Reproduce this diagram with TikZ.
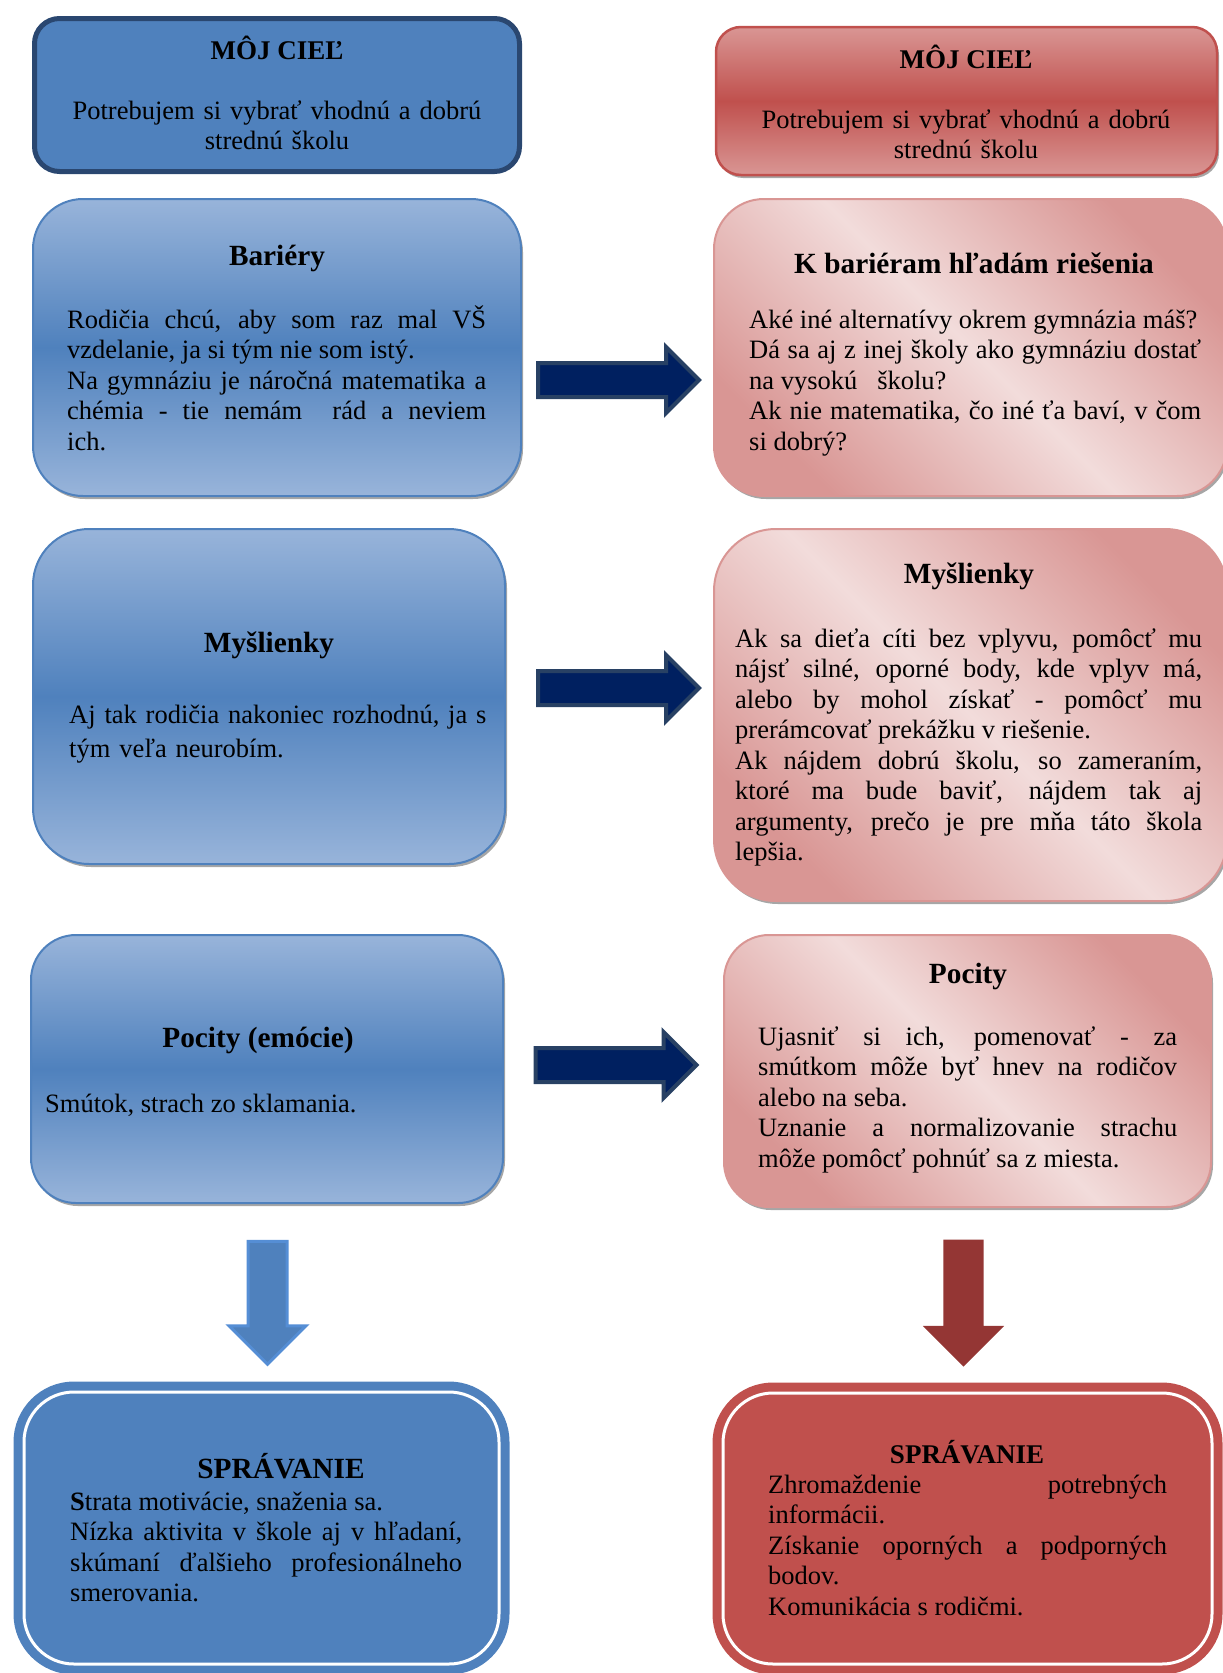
\documentclass[tikz,border=0pt]{standalone}
\usepackage{fontspec}
\setmainfont{Liberation Serif}
\usepackage{tikz}
\usetikzlibrary{shapes.arrows,shadows}

\definecolor{boxblue}{HTML}{4F81BD}
\definecolor{bluelite}{HTML}{98B4DA}
\definecolor{goaledge}{HTML}{2A4770}
\definecolor{navy}{HTML}{002060}
\definecolor{navyedge}{HTML}{284164}
\definecolor{downedge}{HTML}{558ED5}
\definecolor{redmid}{HTML}{C0504D}
\definecolor{redlite}{HTML}{D99694}
\definecolor{pinklite}{HTML}{F2DCDB}
\definecolor{arrowred}{HTML}{943634}

\newcommand\bodyfont{\fontsize{26.5}{30.5}\selectfont\parindent=0pt\sloppy}
\newcommand\headfont{\fontsize{29.3}{33}\selectfont\bfseries}
\newcommand\goalfont{\fontsize{27}{31}\selectfont\bfseries}

\begin{document}
\begin{tikzpicture}[x=1pt,y=-1pt,
 shade/.style={drop shadow={shadow xshift=2pt,shadow yshift=-3pt,fill=black,opacity=.35}},
 aim/.style={inner sep=0pt,rounded corners=25},
 lbox/.style={inner sep=0pt,draw=boxblue,line width=2,top color=bluelite,bottom color=bluelite,middle color=boxblue,shade},
 rbox/.style={inner sep=0pt,draw=redlite,line width=2,top color=redlite,bottom color=redlite,middle color=pinklite,shading angle=-45,shade},
 act/.style={inner sep=0pt,rounded corners=50,draw=#1,fill=#1,line width=9,double=white,double distance=3},
 harr/.style={single arrow,single arrow tip angle=90,single arrow head indent=0pt,inner sep=15,
   single arrow head extend=16,minimum width=62,minimum height=161,fill=navy,draw=navyedge,line width=4},
 varr/.style={single arrow,shape border rotate=270,single arrow tip angle=90,single arrow head indent=0pt},
 ttl/.style={anchor=base,inner sep=0pt,font=\headfont},
 txt/.style={anchor=base west,inner sep=0pt,align=justify,font=\bodyfont}]
\useasboundingbox (0,0) rectangle (1223,1673);

\node[aim,draw=goaledge,line width=5,fill=boxblue,minimum width=485,minimum height=153] (goalL) at (277,95) {};
\node[ttl,font=\goalfont] (goalLt) at (277,59) {MÔJ CIEĽ};
\node[txt,anchor=base,align=center,text width=470] (goalLb) at (277,119)
 {Potrebujem si vybrať vhodnú a dobrú\\strednú školu};

\node[aim,shade,draw=redmid,line width=2.5,top color=redlite,bottom color=redlite,middle color=redmid,
 minimum width=501,minimum height=148] (goalR) at (966.5,101) {};
\node[ttl,font=\goalfont] (goalRt) at (966,68) {MÔJ CIEĽ};
\node[txt,anchor=base,align=center,text width=480] (goalRb) at (966,128)
 {Potrebujem si vybrať vhodnú a dobrú\\strednú školu};

\node[lbox,rounded corners=50,minimum width=488,minimum height=297] (barL) at (277,347.5) {};
\node[ttl] (barLt) at (277,265) {Bariéry};
\node[txt,text width=419] (barLb) at (67,328)
 {Rodičia chcú, aby som raz mal VŠ\linebreak vzdelanie, ja si tým nie som istý.\newline
  Na gymnáziu je náročná matematika a\linebreak chémia - tie nemám~ rád a neviem\linebreak ich.};

\node[rbox,rounded corners=50,minimum width=513,minimum height=297] (barR) at (970.5,347.5) {};
\node[ttl] (barRt) at (974,273) {K bariéram hľadám riešenia};
\node[txt,text width=452] (barRb) at (749,328)
 {Aké iné alternatívy okrem gymnázia máš?\newline Dá sa aj z inej školy ako gymnáziu dostať\linebreak
  na vysokú~~~školu?\newline Ak nie matematika, čo iné ťa baví, v čom\linebreak si dobrý?};

\node[harr] (r1) at (610,380) {};

\node[lbox,rounded corners=56,minimum width=472,minimum height=335] (mysL) at (269,696.5) {};
\node[ttl] (mysLt) at (269,652) {Myšlienky};
\node[txt,align=left,text width=450,font=\fontsize{26.5}{34}\selectfont] (mysLb) at (69,723)
 {Aj tak rodičia nakoniec rozhodnú, ja s\\tým veľa neurobím.};

\node[rbox,rounded corners=62,minimum width=513,minimum height=372] (mysR) at (970.5,715) {};
\node[ttl] (mysRt) at (969,583) {Myšlienky};
\node[txt,text width=467] (mysRb) at (735,647)
 {Ak sa dieťa cíti bez vplyvu, pomôcť mu\linebreak nájsť silné, oporné body, kde vplyv má,\linebreak
  alebo by mohol získať - pomôcť mu\linebreak prerámcovať prekážku v riešenie.\newline
  Ak nájdem dobrú školu, so zameraním,\linebreak ktoré ma bude baviť, nájdem tak aj\linebreak
  argumenty, prečo je pre mňa táto škola\linebreak lepšia.};

\node[harr] (r2) at (610,688) {};

\node[lbox,rounded corners=45,minimum width=472,minimum height=268] (pocL) at (267,1069) {};
\node[ttl] (pocLt) at (258,1047) {Pocity (emócie)};
\node[txt] (pocLb) at (45,1112) {Smútok, strach zo sklamania.};

\node[rbox,rounded corners=45,minimum width=487,minimum height=272] (pocR) at (967.5,1071) {};
\node[ttl] (pocRt) at (968,983) {Pocity};
\node[txt,text width=419] (pocRb) at (758,1045)
 {Ujasniť si ich, pomenovať - za\linebreak smútkom môže byť hnev na rodičov\linebreak alebo na seba.\newline
  Uznanie a normalizovanie strachu\linebreak môže pomôcť pohnúť sa z miesta.};

\node[harr] (r3) at (607.5,1065) {};

\node[varr,inner sep=18,single arrow head extend=19,minimum width=74,minimum height=123,
 fill=boxblue,draw=downedge,line width=3] (dL) at (267.5,1293) {};
\node[varr,inner sep=20,single arrow head extend=20.5,minimum width=81,minimum height=127,
 fill=arrowred] (dR) at (963.5,1293) {};

\node[act=boxblue,minimum width=475,minimum height=272] (actL) at (261.5,1528) {};
\node[ttl] (actLt) at (281,1478) {SPRÁVANIE};
\node[txt,text width=392] (actLb) at (70,1510)
 {\textbf{S}trata motivácie, snaženia sa.\newline Nízka aktivita v škole aj v hľadaní,\linebreak
  skúmaní ďalšieho profesionálneho\linebreak smerovania.};

\node[act=redmid,minimum width=489,minimum height=271] (actR) at (967.5,1528.5) {};
\node[ttl,font=\goalfont] (actRt) at (967,1463) {SPRÁVANIE};
\node[txt,text width=399] (actRb) at (768,1493)
 {Zhromaždenie potrebných\linebreak informácii.\newline Získanie oporných a podporných\linebreak
  bodov.\newline Komunikácia s rodičmi.};
\end{tikzpicture}
\end{document}
